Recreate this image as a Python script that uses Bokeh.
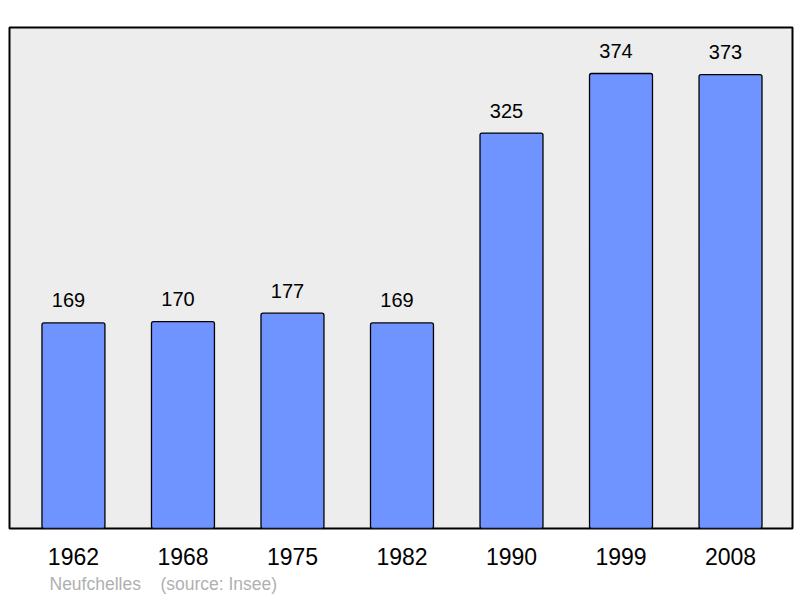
from bokeh.plotting import figure
from bokeh.models import ColumnDataSource, FixedTicker, Title, Range1d
from bokeh.core.properties import value
from bokeh.embed import file_html
from bokeh.resources import INLINE

years = ["1962", "1968", "1975", "1982", "1990", "1999", "2008"]
population = [169, 170, 177, 169, 325, 374, 373]
commune = "Neufchelles"
source_note = "(source: Insee)"

xs = list(range(len(years)))
src = ColumnDataSource(dict(x=xs, y=population, lab=[str(v) for v in population]))

p = figure(width=800, height=598, output_backend="svg", toolbar_location=None,
           x_range=Range1d(-0.584, 6.566), y_range=Range1d(0, 411.8),
           min_border_left=9, min_border_right=8, min_border_top=27, min_border_bottom=70)
p.background_fill_color = "#ededed"
p.border_fill_color = "white"
p.outline_line_color = "black"
p.outline_line_width = 2
p.grid.visible = False
p.yaxis.visible = False

p.vbar(x="x", top="y", width=0.575, bottom=0, source=src, border_radius=2,
       fill_color="#7094ff", line_color="black", line_width=1.3)
p.text(x="x", y="y", text="lab", source=src, x_offset=-5, y_offset=-22.5,
       text_align="center", text_baseline="alphabetic",
       text_font=value("Liberation Sans"), text_font_size="20px", text_color="black")

ax = p.xaxis[0]
ax.ticker = FixedTicker(ticks=xs)
ax.major_label_overrides = {i: y for i, y in enumerate(years)}
ax.axis_line_color = None
ax.major_tick_line_color = None
ax.minor_tick_line_color = None
ax.major_tick_out = 0
ax.major_label_standoff = 19
ax.major_label_text_font = "Liberation Sans"
ax.major_label_text_font_size = "23px"
ax.major_label_text_color = "black"

footer = Title(text=commune + "\u00a0\u00a0\u00a0\u00a0" + source_note, align="left", offset=40,
               text_font="Liberation Sans", text_font_size="17.5px",
               text_font_style="normal", text_color="#b0b0b0", standoff=8)
p.add_layout(footer, "below")

open("out.html", "w").write(file_html(p, INLINE))
